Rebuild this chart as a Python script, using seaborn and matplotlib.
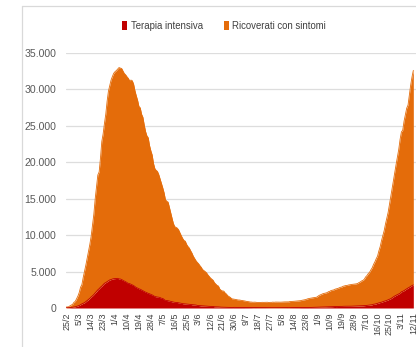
import datetime as dt

import matplotlib
matplotlib.use("Agg")
import matplotlib.pyplot as plt
from matplotlib.lines import Line2D
from matplotlib.patches import Patch
from matplotlib.ticker import FuncFormatter
import numpy as np
import pandas as pd
import seaborn as sns

# Daily hospital occupancy, 24/2 -> 12/11
start_date = "2020-02-24"

terapia_intensiva = [
    26, 35, 36, 56, 64, 105,
    140, 166, 229, 295, 351, 462, 567, 650, 733, 877, 1028, 1153, 1328, 1518, 1672,
    1851, 2060, 2257, 2498, 2655, 2857, 3009, 3204, 3396, 3489, 3612, 3732, 3856, 3906,
    3981, 4023,
    4035, 4053, 4068, 3994, 3977, 3898, 3792, 3693, 3605, 3497, 3381, 3343, 3260, 3186,
    3079, 2936, 2812, 2733, 2635, 2573, 2471, 2384, 2267, 2173, 2102, 2009, 1956, 1863,
    1795, 1694,
    1578, 1539, 1501, 1479, 1427, 1333, 1311, 1168, 1034, 1027, 999, 952, 893, 855, 808,
    775, 762, 749, 716, 676, 640, 595, 572, 553, 541, 521, 505, 489, 450, 435, 424,
    408, 353, 338, 316, 293, 287, 283, 263, 249, 236, 227, 220, 209, 207, 168, 163, 152,
    148, 127, 115, 108, 107, 97, 87, 77, 74, 72, 71, 64, 87,
    79, 72, 71, 72, 71, 68, 69, 65, 65, 64, 62, 60, 57, 49, 49, 54, 48, 49, 49, 48, 48,
    47, 49, 45, 43, 41, 41, 40, 41, 39, 41,
    41, 42, 41, 41, 42, 43, 44, 45, 49, 42, 55, 53, 56, 55, 58, 58, 58, 60, 66, 68, 69,
    69, 69, 74, 65, 67, 79, 86, 94, 107, 99,
    109, 120, 121, 133, 142, 143, 152, 164, 175, 174, 182, 187, 201, 207, 197, 208, 215,
    222, 220, 236, 239, 244, 242, 246, 239, 247, 254, 260, 264, 268,
    271, 280, 291, 297, 303, 319, 337, 358, 387, 390, 420, 452, 514, 539, 586, 638, 705,
    750, 797, 870, 926, 992, 1049, 1128, 1208, 1284, 1411, 1536, 1651, 1746, 1843,
    1939, 2022, 2225, 2292, 2391, 2515, 2634, 2749, 2849, 2971, 3081, 3170,
]

ricoverati_con_sintomi = [
    101, 114, 128, 248, 345, 401,
    639, 742, 1034, 1346, 1790, 2394, 2651, 3557, 4316, 5038, 5838, 6650, 7426, 8372,
    9663, 11025, 12894, 14363, 15757, 16020, 17708, 19846, 20692, 21937, 23112, 24753,
    26029, 26676, 27386, 27795, 28192,
    28403, 28540, 28741, 29010, 28949, 28976, 28718, 28485, 28399, 28242, 28144, 27847,
    28023, 28011, 27643, 26893, 26321, 25786, 25033, 24906, 24134, 23805, 22871, 22068,
    21533, 21372, 20353, 19723, 19210, 18149,
    17569, 17357, 17242, 16823, 16270, 15769, 15174, 14636, 13834, 13618, 13539, 12865,
    12172, 11453, 10792, 10400, 10311, 10207, 9991, 9624, 9269, 8957, 8695, 8613, 8185,
    7917, 7729, 7379, 7094, 6680, 6387,
    6099, 5916, 5742, 5503, 5301, 5002, 4864, 4729, 4581, 4320, 4114, 3893, 3747, 3594,
    3301, 3126, 2942, 2863, 2474, 2314, 2232, 2210, 1973, 1833, 1607, 1489, 1377, 1198,
    1176, 1111,
    1090, 1064, 1025, 1020, 981, 962, 925, 897, 847, 825, 799, 761, 756, 737, 752, 739,
    719, 723, 719, 714, 732, 724, 730, 734, 745, 715, 734, 734, 766, 746, 770,
    760, 764, 757, 759, 775, 787, 793, 797, 801, 799, 833, 843, 862, 867, 879, 902, 908,
    924, 943, 991, 1024, 1060, 1096, 1171, 1227, 1263, 1289, 1307, 1331, 1349, 1380,
    1505, 1616, 1697, 1760, 1836, 1875, 1908, 1955, 2065, 2122, 2222, 2263, 2285, 2380,
    2437, 2473, 2548, 2619, 2657, 2746, 2786, 2837, 2851, 2909, 2951, 2981, 2992, 3011,
    3025, 3047,
    3097, 3211, 3287, 3416, 3487, 3625, 3925, 4086, 4336, 4519, 4821, 5076, 5470, 5796,
    6178, 6487, 7131, 7676, 8454, 9057, 9694, 10549, 11287, 12006, 12997, 13955, 14981,
    15964, 16994, 17966, 18902,
    19840, 21114, 21937, 22116, 23256, 24005, 24796, 25109, 26440, 27636, 28633, 29444,
]

tick_labels = [
    "25/2", "5/3", "14/3", "23/3", "1/4", "10/4", "19/4", "28/4", "7/5", "16/5",
    "25/5", "3/6", "12/6", "21/6", "30/6", "9/7", "18/7", "27/7", "5/8", "14/8",
    "23/8", "1/9", "10/9", "19/9", "28/9", "7/10", "16/10", "25/10", "3/11", "12/11",
]

y_ticks = [0, 5000, 10000, 15000, 20000, 25000, 30000, 35000]

series_names = ["Terapia intensiva", "Ricoverati con sintomi"]
colors = ["#C00000", "#E46C0A"]

# ---- data frame -------------------------------------------------------------
day0 = pd.Timestamp(start_date)
df = pd.DataFrame({
    "giorno": np.arange(len(terapia_intensiva)),
    "ti": terapia_intensiva,
    "rcs": ricoverati_con_sintomi,
})
df["totale"] = df["ti"] + df["rcs"]

tick_pos = [
    (pd.Timestamp(dt.date(2020, int(l.split("/")[1]), int(l.split("/")[0]))) - day0).days
    for l in tick_labels
]

# ---- figure -----------------------------------------------------------------
sns.set_theme(style="white")
plt.rcParams["font.family"] = ["Liberation Sans", "DejaVu Sans"]

W, H = 416, 347
fig = plt.figure(figsize=(W / 100, H / 100), dpi=100)
px_per_day = 1.3257
x_left_px = 66
x_right_day = 265
ax = fig.add_axes([
    x_left_px / W,
    (H - 308) / H,
    x_right_day * px_per_day / W,
    (308 - 53) / H,
])

ax.stackplot(df["giorno"], df["ti"], df["rcs"], colors=colors, linewidth=0, zorder=2)
sns.lineplot(data=df, x="giorno", y="totale", color=colors[1], linewidth=0.6, ax=ax, zorder=3)
sns.lineplot(data=df, x="giorno", y="ti", color=colors[0], linewidth=0.6, ax=ax, zorder=3)

ax.set_xlim(0, x_right_day)
ax.set_ylim(0, 35000)
ax.set_yticks(y_ticks)
ax.yaxis.set_major_formatter(FuncFormatter(lambda v, _: f"{int(v):,}".replace(",", ".")))
ax.set_xticks(tick_pos)
ax.set_xticklabels(tick_labels, rotation=90, fontsize=6.4, color="#404040")
ax.tick_params(axis="y", labelsize=7.6, labelcolor="#595959", length=0, pad=7)
ax.tick_params(axis="x", length=0, pad=3)
ax.set_xlabel("")
ax.set_ylabel("")

ax.grid(axis="y", color="#DDDDDD", linewidth=0.9, zorder=0)
ax.grid(axis="x", visible=False)
ax.set_axisbelow(True)
for side in ax.spines.values():
    side.set_visible(False)

# chart-area border
border = "#D9D9D9"
fig.add_artist(Line2D([22 / W, 22 / W], [0, 1 - 6 / H], color=border, lw=0.9,
                      transform=fig.transFigure))
fig.add_artist(Line2D([22 / W, 1], [1 - 6 / H, 1 - 6 / H], color=border, lw=0.9,
                      transform=fig.transFigure))

handles = [Patch(facecolor=c, edgecolor="none") for c in colors]
fig.legend(handles, series_names, loc="center", bbox_to_anchor=(224 / W, 1 - 26 / H),
           ncol=2, frameon=False, fontsize=6.9, handlelength=0.55, handleheight=1.1,
           handletextpad=0.35, columnspacing=2.2, labelcolor="#404040")

fig.savefig("out.png", dpi=100)
